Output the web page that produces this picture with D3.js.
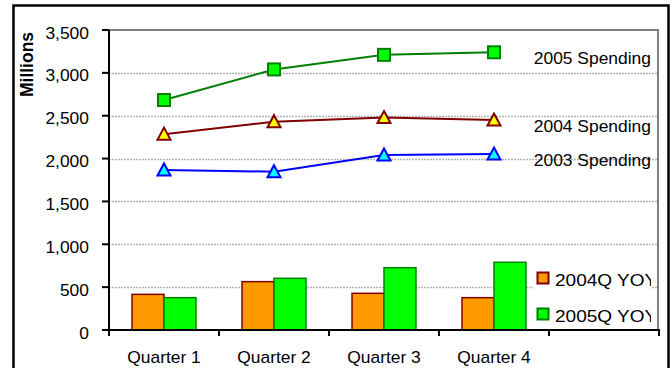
<!DOCTYPE html>
<html><head><meta charset="utf-8">
<script src="https://cdn.jsdelivr.net/npm/d3@7"></script>
<style>body{margin:0;background:#fff;overflow:hidden}svg{display:block}text{font-family:"Liberation Sans",Arial,sans-serif;fill:#000}</style>
</head><body><svg id="c" width="672" height="368"></svg>
<script>
const categories = ["Quarter 1","Quarter 2","Quarter 3","Quarter 4",""];
const quarters = ["Quarter 1","Quarter 2","Quarter 3","Quarter 4"];
const spending2003 = [1867,1847,2042,2053];
const spending2004 = [2285,2430,2478,2450];
const spending2005 = [2683,3040,3210,3240];
const yoy2004 = [416,564,428,377];
const yoy2005 = [377,603,727,790];
const yTicks = [0,500,1000,1500,2000,2500,3000,3500];
const lineLabels = ["2003 Spending","2004 Spending","2005 Spending"];
const legendLabels = ["2004Q YOY","2005Q YOY"];
const yTitle = "Millions";

const svg = d3.select("#c");
const L = 109, R = 659, T = 30, B = 330;
const x = d3.scaleBand().domain(categories).range([L, R]).padding(0);
const xb = d3.scaleBand().domain(["a","b"]).range([0, x.bandwidth()]).paddingInner(0).paddingOuter(0.72);
const y = d3.scaleLinear().domain([0, 3500]).range([B, T]);
const SX = 1.09;

function stext(parent, px, py, str, anchor, size, weight, sx) {
  const g = parent.append("g").attr("transform", `translate(${px},${py}) scale(${sx || SX},1)`);
  return g.append("text").attr("text-anchor", anchor).attr("font-size", size)
    .attr("font-weight", weight || "normal").text(str);
}

// outer border
svg.append("rect").attr("x", 13.5).attr("y", 5.5).attr("width", 655).attr("height", 380)
  .attr("fill", "none").attr("stroke", "#000").attr("stroke-width", 2.5);

// gridlines
svg.append("g").selectAll("line").data(yTicks.filter(d => d > 0 && d < 3500)).join("line")
  .attr("x1", L).attr("x2", 658).attr("y1", d => Math.round(y(d)) + 0.5).attr("y2", d => Math.round(y(d)) + 0.5)
  .attr("stroke", "#b4b4b4").attr("stroke-width", 1.3).attr("stroke-dasharray", "2,1");
// plot area top / right border
svg.append("path").attr("d", `M${L},${T}H658V${B}`).attr("fill", "none")
  .attr("stroke", "#808080").attr("stroke-width", 2);

// bars
const barSeries = [
  {vals: yoy2004, key: "a", fill: "#FF9900", stroke: "#800000"},
  {vals: yoy2005, key: "b", fill: "#00FF00", stroke: "#008000"}
];
barSeries.forEach(s => {
  svg.append("g").selectAll("rect").data(s.vals).join("rect")
    .attr("x", (d, i) => x(quarters[i]) + xb(s.key))
    .attr("y", d => y(d))
    .attr("width", xb.bandwidth())
    .attr("height", d => B - y(d))
    .attr("fill", s.fill).attr("stroke", s.stroke).attr("stroke-width", 1.5);
});

// lines
const lineSeries = [
  {vals: spending2003, color: "#0000FF", fill: "#00FFFF", marker: "tri", label: lineLabels[0]},
  {vals: spending2004, color: "#800000", fill: "#FFFF00", marker: "tri", label: lineLabels[1]},
  {vals: spending2005, color: "#008000", fill: "#00FF00", marker: "sq", label: lineLabels[2]}
];
const cx = q => x(q) + x.bandwidth() / 2;
const line = d3.line().x((d, i) => cx(quarters[i])).y(d => y(d));
lineSeries.forEach(s => {
  svg.append("path").datum(s.vals).attr("d", line).attr("fill", "none")
    .attr("stroke", s.color).attr("stroke-width", 2);
  const g = svg.append("g");
  if (s.marker === "sq") {
    g.selectAll("rect").data(s.vals).join("rect")
      .attr("x", (d, i) => cx(quarters[i]) - 6).attr("y", d => y(d) - 6)
      .attr("width", 12).attr("height", 12)
      .attr("fill", s.fill).attr("stroke", s.color).attr("stroke-width", 2);
  } else {
    g.selectAll("path").data(s.vals).join("path")
      .attr("d", "M0,-6.5L6.5,5.5L-6.5,5.5Z")
      .attr("transform", (d, i) => `translate(${cx(quarters[i])},${y(d)})`)
      .attr("fill", s.fill).attr("stroke", s.color).attr("stroke-width", 2).attr("stroke-linejoin", "miter");
  }
  stext(svg, 651, y(s.vals[s.vals.length - 1]) + 11.5, s.label, "end", 16);
});

// axes
svg.append("line").attr("x1", L).attr("x2", L).attr("y1", T).attr("y2", B + 6)
  .attr("stroke", "#000").attr("stroke-width", 2);
svg.append("line").attr("x1", L - 1).attr("x2", R + 1).attr("y1", B).attr("y2", B)
  .attr("stroke", "#000").attr("stroke-width", 2);
svg.append("g").selectAll("line").data(yTicks).join("line")
  .attr("x1", 102).attr("x2", L).attr("y1", d => y(d)).attr("y2", d => y(d))
  .attr("stroke", "#000").attr("stroke-width", 2);
svg.append("g").selectAll("line").data(categories).join("line")
  .attr("x1", d => x(d) + x.bandwidth()).attr("x2", d => x(d) + x.bandwidth())
  .attr("y1", B).attr("y2", B + 6).attr("stroke", "#000").attr("stroke-width", 2);
const fmt = d3.format(",");
yTicks.forEach(t => stext(svg, 89, y(t) + 8.5, fmt(t), "end", 16));
quarters.forEach(q => stext(svg, cx(q), 363, q, "middle", 16));

// y title
svg.append("text").attr("transform", "translate(33,64.5) rotate(-90)")
  .attr("text-anchor", "middle").attr("font-size", 17.5).attr("font-weight", "bold").text(yTitle);

// legend
svg.append("defs").append("clipPath").attr("id", "lc").append("rect")
  .attr("x", 533).attr("y", 255).attr("width", 118).attr("height", 74);
const lg = svg.append("g").attr("clip-path", "url(#lc)");
lg.append("rect").attr("x", 533).attr("y", 262).attr("width", 118).attr("height", 66).attr("fill", "#fff");
const legendItems = [
  {label: legendLabels[0], fill: "#FF9900", stroke: "#800000"},
  {label: legendLabels[1], fill: "#00FF00", stroke: "#008000"}
];
legendItems.forEach((it, i) => {
  const cy = 278 + i * 36;
  lg.append("rect").attr("x", 537.5).attr("y", cy - 5.5).attr("width", 11).attr("height", 11)
    .attr("fill", it.fill).attr("stroke", it.stroke).attr("stroke-width", 2);
  stext(lg, 555, cy + 7.5, it.label, "start", 17, "normal", 1.12);
});
</script></body></html>
